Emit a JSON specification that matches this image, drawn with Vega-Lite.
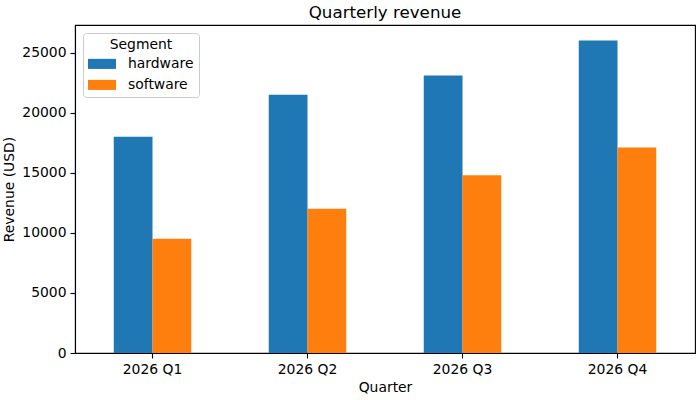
{
  "$schema": "https://vega.github.io/schema/vega-lite/v6.json",
  "autosize": {"type": "none"},
  "padding": {"left": 75, "top": 25, "right": 5, "bottom": 47},
  "width": 620,
  "height": 328,
  "title": {
    "text": "Quarterly revenue",
    "fontSize": 16.7,
    "fontWeight": "normal",
    "font": "DejaVu Sans",
    "color": "black",
    "frame": "group",
    "baseline": "alphabetic",
    "offset": 8,
    "dy": 18
  },
  "data": {
    "values": [
      {"Quarter": "2026 Q1", "Segment": "hardware", "Revenue": 18000},
      {"Quarter": "2026 Q1", "Segment": "software", "Revenue": 9500},
      {"Quarter": "2026 Q2", "Segment": "hardware", "Revenue": 21500},
      {"Quarter": "2026 Q2", "Segment": "software", "Revenue": 12000},
      {"Quarter": "2026 Q3", "Segment": "hardware", "Revenue": 23100},
      {"Quarter": "2026 Q3", "Segment": "software", "Revenue": 14800},
      {"Quarter": "2026 Q4", "Segment": "hardware", "Revenue": 26000},
      {"Quarter": "2026 Q4", "Segment": "software", "Revenue": 17100}
    ]
  },
  "mark": {"type": "bar"},
  "encoding": {
    "x": {
      "field": "Quarter",
      "type": "nominal",
      "title": "Quarter",
      "scale": {"paddingInner": 0.5, "paddingOuter": 0.25},
      "axis": {"labelAngle": 0, "titlePadding": 5}
    },
    "xOffset": {
      "field": "Segment",
      "type": "nominal",
      "scale": {"paddingInner": 0, "paddingOuter": 0}
    },
    "y": {
      "field": "Revenue",
      "type": "quantitative",
      "title": "Revenue (USD)",
      "scale": {"domain": [0, 27300], "nice": false, "zero": true},
      "axis": {"values": [0, 5000, 10000, 15000, 20000, 25000], "format": "d", "titlePadding": 5}
    },
    "color": {
      "field": "Segment",
      "type": "nominal",
      "scale": {"domain": ["hardware", "software"], "range": ["#1f77b4", "#ff7f0e"]},
      "legend": {
        "title": "Segment",
        "orient": "top-left",
        "offset": 8,
        "padding": 5,
        "fillColor": "white",
        "strokeColor": "#cccccc",
        "cornerRadius": 3,
        "titleAnchor": "middle",
        "titlePadding": -2,
        "rowPadding": -8,
        "symbolType": "M-1,-0.36H1V0.36H-1Z",
        "symbolSize": 784,
        "symbolStrokeWidth": 0,
        "symbolOpacity": 1,
        "labelOffset": 12
      }
    }
  },
  "config": {
    "font": "DejaVu Sans",
    "view": {"stroke": "black", "strokeWidth": 1.1},
    "axis": {
      "grid": false,
      "labelFont": "DejaVu Sans",
      "titleFont": "DejaVu Sans",
      "labelFontSize": 13.9,
      "titleFontSize": 13.9,
      "titleFontWeight": "normal",
      "labelColor": "black",
      "titleColor": "black",
      "domainColor": "black",
      "domainWidth": 1.1,
      "tickColor": "black",
      "tickWidth": 1.1,
      "tickSize": 5,
      "labelPadding": 4
    },
    "legend": {
      "titleFont": "DejaVu Sans",
      "labelFont": "DejaVu Sans",
      "titleFontSize": 13.9,
      "labelFontSize": 13.9,
      "titleFontWeight": "normal",
      "titleColor": "black",
      "labelColor": "black"
    }
  }
}
